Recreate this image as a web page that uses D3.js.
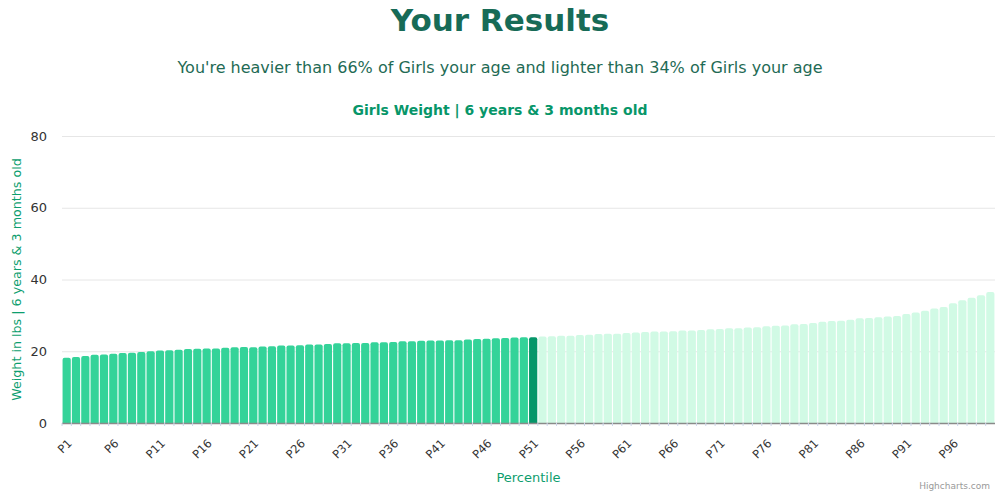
<!DOCTYPE html>
<html>
<head>
<meta charset="utf-8">
<script src="https://cdn.jsdelivr.net/npm/d3@7"></script>
<style>
  body { margin: 0; background: #fff; }
  svg { font-family: "DejaVu Sans", sans-serif; }
</style>
</head>
<body>
<script>
var width = 1000,
    height = 495

// percentiles P1..P100, weight in lbs
var percentiles = d3.range(1, 101).map(function(i) { return "P" + i; });
var weights = [
  18.2, 18.4, 18.7, 19.0, 19.1, 19.3, 19.5, 19.6, 19.8, 20.0,
  20.2, 20.3, 20.4, 20.6, 20.7, 20.8, 20.8, 21.0, 21.1, 21.2,
  21.1, 21.3, 21.4, 21.6, 21.6, 21.7, 21.9, 21.9, 22.0, 22.2,
  22.2, 22.3, 22.3, 22.5, 22.5, 22.6, 22.8, 22.8, 22.9, 23.0,
  23.0, 23.1, 23.1, 23.3, 23.4, 23.5, 23.6, 23.7, 23.8, 23.9,
  23.9, 24.1, 24.2, 24.3, 24.3, 24.5, 24.6, 24.8, 24.9, 24.9,
  25.1, 25.2, 25.4, 25.5, 25.5, 25.6, 25.8, 25.8, 25.9, 26.1,
  26.2, 26.4, 26.4, 26.6, 26.7, 27.0, 27.1, 27.2, 27.5, 27.6,
  27.9, 28.2, 28.4, 28.5, 28.8, 29.2, 29.3, 29.5, 29.7, 29.8,
  30.4, 30.8, 31.3, 31.9, 32.3, 33.4, 34.2, 34.9, 35.6, 36.5
];
var yTicks = [0, 20, 40, 60, 80];
var childIndex = 50; // P51

var svg = d3.select("body")
    .append("svg")
    .attr("width", width)
    .attr("height", height);

var plotLeft = 62, plotRight = 995, plotTop = 136, plotBottom = 423;

var x = d3.scaleBand()
    .domain(percentiles)
    .range([plotLeft, plotRight])
    .paddingInner(0.12)
    .paddingOuter(0.06);

var y = d3.scaleLinear()
    .domain([0, 80])
    .range([plotBottom, plotTop]);

// titles
svg.append("text")
    .attr("x", 500).attr("y", 31)
    .attr("text-anchor", "middle")
    .style("font-size", "31px").style("font-weight", "bold")
    .style("fill", "#176b57")
    .text("Your Results");

svg.append("text")
    .attr("x", 500).attr("y", 73)
    .attr("text-anchor", "middle")
    .style("font-size", "16px")
    .style("fill", "#1f6b55")
    .text("You're heavier than 66% of Girls your age and lighter than 34% of Girls your age");

svg.append("text")
    .attr("x", 500).attr("y", 115)
    .attr("text-anchor", "middle")
    .style("font-size", "14px").style("font-weight", "bold")
    .style("fill", "#079669")
    .text("Girls Weight | 6 years & 3 months old");

// gridlines
svg.append("g")
    .selectAll("line")
    .data(yTicks.slice(1))
    .enter()
    .append("line")
    .attr("x1", plotLeft).attr("x2", plotRight)
    .attr("y1", function(d) { return y(d) + 0.5; })
    .attr("y2", function(d) { return y(d) + 0.5; })
    .attr("stroke", "#e6e6e6");

// y axis labels
var yAxis = svg.append("g")
    .attr("transform", "translate(" + (plotLeft - 15) + ",0)")
    .call(d3.axisLeft(y).tickValues(yTicks).tickSize(0).tickPadding(0));
yAxis.select(".domain").remove();
yAxis.selectAll("text")
    .attr("font-family", "DejaVu Sans")
    .attr("font-size", 13)
    .style("fill", "#333");

// bars
svg.append("g")
    .selectAll("path")
    .data(weights)
    .enter()
    .append("path")
    .attr("d", function(d, i) {
        var x0 = x(percentiles[i]), w = x.bandwidth();
        var y0 = y(d), r = 2;
        return "M" + x0 + "," + plotBottom +
               "V" + (y0 + r) +
               "Q" + x0 + "," + y0 + " " + (x0 + r) + "," + y0 +
               "H" + (x0 + w - r) +
               "Q" + (x0 + w) + "," + y0 + " " + (x0 + w) + "," + (y0 + r) +
               "V" + plotBottom + "Z";
    })
    .attr("fill", function(d, i) {
        if (i < childIndex) return "#34d399";
        if (i == childIndex) return "#059669";
        return "#d1fae5";
    });

// x axis
var xAxis = svg.append("g")
    .attr("transform", "translate(0," + plotBottom + ")")
    .call(d3.axisBottom(x)
        .tickValues(percentiles.filter(function(d, i) { return i % 5 == 0; }))
        .tickSize(0)
        .tickPadding(0));
xAxis.select(".domain")
    .attr("d", "M" + plotLeft + ",0.5H" + plotRight)
    .attr("stroke", "#8a8a8a")
    .attr("stroke-width", 1.5);
xAxis.selectAll("text")
    .attr("font-family", "DejaVu Sans")
    .attr("font-size", 11.5)
    .style("fill", "#333")
    .attr("text-anchor", "end")
    .attr("y", 0)
    .attr("dy", 0)
    .attr("transform", "translate(6,21) rotate(-45)");

// small tick marks
svg.append("g")
    .selectAll("line")
    .data(percentiles)
    .enter()
    .append("line")
    .attr("x1", function(d) { return x(d) - x.step() * x.paddingInner() / 2; })
    .attr("x2", function(d) { return x(d) - x.step() * x.paddingInner() / 2; })
    .attr("y1", plotBottom).attr("y2", plotBottom + 3)
    .attr("stroke", "#ccd6eb");

// axis titles
svg.append("text")
    .attr("transform", "translate(21," + ((plotTop + plotBottom) / 2) + ") rotate(-90)")
    .attr("text-anchor", "middle")
    .style("font-size", "12.7px")
    .style("fill", "#0d9e6e")
    .text("Weight in lbs | 6 years & 3 months old");

svg.append("text")
    .attr("x", (plotLeft + plotRight) / 2).attr("y", 482)
    .attr("text-anchor", "middle")
    .style("font-size", "13px")
    .style("fill", "#0d9e6e")
    .text("Percentile");

svg.append("text")
    .attr("x", 990).attr("y", 489)
    .attr("text-anchor", "end")
    .style("font-size", "9px")
    .style("fill", "#999")
    .text("Highcharts.com");
</script>
</body>
</html>
